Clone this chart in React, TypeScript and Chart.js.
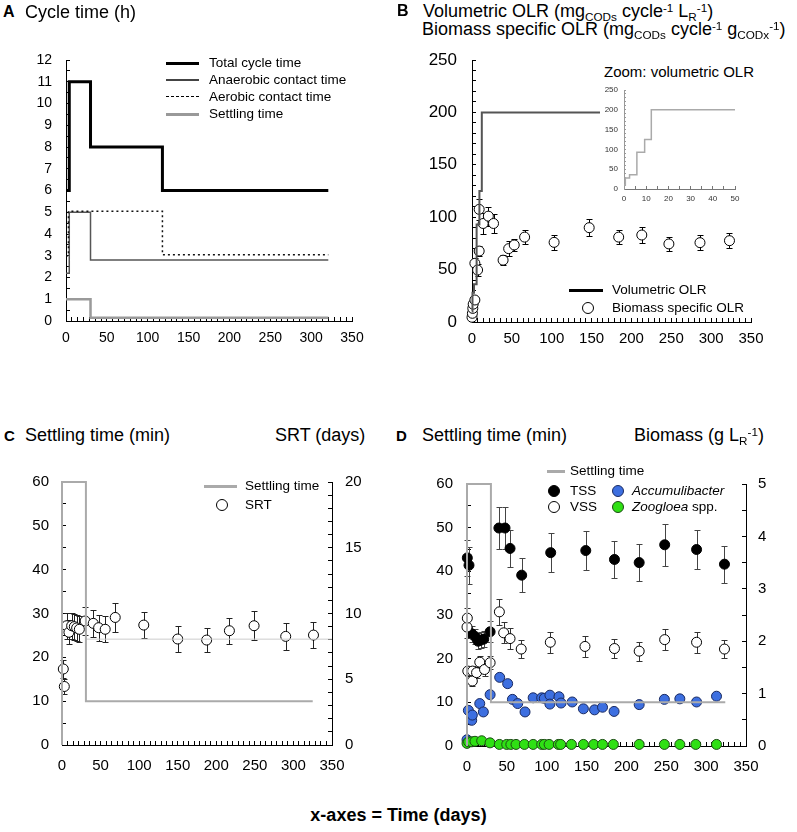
import React, { useEffect, useRef } from 'react';
import { Chart, registerables } from 'chart.js';
Chart.register(...registerables);

const FONT = '"Liberation Sans", Arial, Helvetica, sans-serif';
Chart.defaults.font.family = FONT;
Chart.defaults.color = '#000';

// ---------------- DATA ----------------
// shared x axis (days)
const X_TICKS = [0, 50, 100, 150, 200, 250, 300, 350];
const X_TICK_LABELS = ['0', '50', '100', '150', '200', '250', '300', '350'];

// Panel A: cycle time (h)
const A_Y_TICKS = [0, 1, 2, 3, 4, 5, 6, 7, 8, 9, 10, 11, 12];
const A_totalDays = [0, 4, 30, 118, 321];
const A_totalHours = [6, 11, 8, 6, 6];
const A_anaDays = [0, 4, 30, 321];
const A_anaHours = [2.2, 5, 2.8, 2.8];
const A_aeroDays = [0, 3, 118, 321];
const A_aeroHours = [3, 5.05, 3.05, 3.05];
const A_settleDays = [0, 30, 321];
const A_settleHours = [1, 0.15, 0.15];

// Panel B: OLR
const B_Y_TICKS = [0, 50, 100, 150, 200, 250];
const B_volDays = [0, 0.6, 2.5, 5.8, 9.3, 12.3, 330];
const B_volOLR = [10, 28, 36, 93, 125, 200, 200];
const B_bioDays = [0, 0.5, 1, 1.5, 3.6, 3.6, 7, 9, 9, 14, 20.5, 27, 39, 46, 53, 66, 103, 147, 184, 213, 247, 286, 323];
const B_bioOLR = [4.5, 8.3, 13, 17, 21, 56, 49.6, 67.7, 107.5, 94, 101, 94, 59, 70, 73.5, 81, 76, 90, 81, 83, 74.5, 75.7, 77.6];
const B_bioErr = [1, 1, 1, 1, 1, 5, 6, 5, 10, 10, 9, 9, 5, 7, 6, 7, 7, 8, 7, 8, 7, 7, 7];
const INSET_X_TICKS = [0, 10, 20, 30, 40, 50];
const INSET_Y_TICKS = [0, 50, 100, 150, 200, 250];

// Panel C: settling time (min) & SRT (days)
const C_Y_TICKS = [0, 10, 20, 30, 40, 50, 60];
const C_Y2_TICKS = [0, 5, 10, 15, 20];
const C_settleDays = [0, 0, 31, 325];
const C_settleMin = [0, 60, 10, 10];
const C_targetDays = [31, 350];
const C_targetSRT = [8.05, 8.05];
const C_srtDays = [1.7, 3, 6, 9, 12.5, 16, 19, 22.5, 30, 40.5, 47.5, 56, 69, 106, 150, 187.5, 217, 249, 290, 326];
const C_srt = [5.78, 4.45, 9.07, 8.57, 9.07, 9.0, 8.9, 8.8, 9.43, 9.25, 8.92, 8.8, 9.7, 9.12, 8.06, 7.98, 8.69, 9.07, 8.26, 8.36];
const C_srtErr = [0.7, 0.6, 1.0, 0.9, 1.0, 1.0, 1.0, 1.0, 1.1, 1.0, 1.0, 1.0, 1.1, 1.0, 1.0, 0.9, 1.0, 1.1, 1.0, 1.0];

// Panel D: settling time (min) & biomass (g/L)
const D_Y_TICKS = [0, 10, 20, 30, 40, 50, 60];
const D_Y2_TICKS = [0, 1, 2, 3, 4, 5];
const D_settleDays = [0, 0, 30, 324];
const D_settleMin = [0, 60, 10, 10];
const D_tssDays = [0.4, 2.5, 5.9, 10, 14, 17, 21, 29, 40, 47.7, 54, 68.6, 105, 149, 185, 216, 248, 288, 323];
const D_tss = [3.59, 3.45, 2.14, 2.09, 2.0, 2.02, 2.04, 2.18, 4.16, 4.16, 3.77, 3.26, 3.69, 3.73, 3.56, 3.5, 3.84, 3.75, 3.47];
const D_tssErr = [0.35, 0.35, 0.15, 0.15, 0.15, 0.15, 0.15, 0.2, 0.4, 0.4, 0.35, 0.32, 0.37, 0.38, 0.36, 0.36, 0.4, 0.38, 0.35];
const D_vssDays = [0, 0.4, 1, 7, 6.7, 12, 16, 22, 29, 40.6, 46, 54, 68, 104.5, 148, 185, 216, 248, 288, 323];
const D_vss = [2.27, 2.44, 1.43, 1.43, 1.24, 1.40, 1.60, 1.46, 1.59, 2.56, 2.16, 2.05, 1.85, 1.98, 1.90, 1.86, 1.81, 2.03, 1.98, 1.85];
const D_vssErr = [0.2, 0.2, 0.1, 0.1, 0.1, 0.1, 0.12, 0.12, 0.12, 0.25, 0.2, 0.2, 0.18, 0.2, 0.2, 0.18, 0.18, 0.2, 0.2, 0.18];
const D_accDays = [0, 1.7, 5.9, 6.7, 16, 20.5, 29, 41, 51, 57, 63.6, 72.8, 83, 93.7, 97, 104, 104, 115.4, 118, 132, 146, 160, 170, 184.5, 216, 247.6, 267, 288, 313];
const D_acc = [0.12, 0.68, 0.49, 0.59, 0.81, 0.65, 0.98, 1.31, 1.19, 0.89, 0.81, 0.65, 0.92, 0.92, 0.91, 0.97, 0.80, 0.94, 0.82, 0.84, 0.71, 0.69, 0.74, 0.66, 0.79, 0.89, 0.90, 0.84, 0.95];
const D_zooDays = [0, 2, 6, 10, 18.4, 28.9, 40.6, 49.8, 55, 61.5, 72, 83, 93.7, 97, 103, 114.6, 117.5, 131, 146, 159, 170, 183.6, 216, 247.6, 267, 287, 313];
const D_zoo = [0.05, 0.08, 0.08, 0.09, 0.1, 0.06, 0.03, 0.03, 0.03, 0.03, 0.03, 0.03, 0.03, 0.03, 0.03, 0.03, 0.03, 0.03, 0.03, 0.03, 0.03, 0.03, 0.03, 0.03, 0.03, 0.03, 0.03];

// ---------------- HELPERS ----------------
const pts = (xs: number[], ys: number[]) => xs.map((x, i) => ({ x, y: ys[i] }));

const errorBars = {
  id: 'errorBars',
  beforeDatasetDraw(chart: any, args: any) {
    const ds = chart.data.datasets[args.index] as any;
    if (!ds.errors) return;
    const meta = args.meta;
    const xs = chart.scales[meta.xAxisID];
    const ys = chart.scales[meta.yAxisID];
    const ctx = chart.ctx;
    ctx.save();
    ctx.strokeStyle = ds.errorColor || '#000';
    ctx.lineWidth = 1;
    ctx.beginPath();
    ds.data.forEach((p: any, i: number) => {
      const e = ds.errors[i];
      if (!e) return;
      const x = Math.round(xs.getPixelForValue(p.x)) + 0.5;
      const y1 = Math.round(ys.getPixelForValue(p.y + e)) + 0.5;
      const y2 = Math.round(ys.getPixelForValue(p.y - e)) + 0.5;
      ctx.moveTo(x, y1); ctx.lineTo(x, y2);
      ctx.moveTo(x - 3, y1); ctx.lineTo(x + 3, y1);
      ctx.moveTo(x - 3, y2); ctx.lineTo(x + 3, y2);
    });
    ctx.stroke();
    ctx.restore();
  },
};

// axis with major labelled ticks plus unlabelled minor ticks; tick marks point inward
function axis(o: {
  pos: 'bottom' | 'left' | 'right'; min: number; max: number; major: number[]; labels: string[]; minor: number;
  size: number; font: number; pad: number; color?: string; border?: string; tickLen?: number;
}) {
  const horiz = o.pos === 'bottom';
  const n = Math.round((o.max - o.min) / o.minor);
  const vals: number[] = [];
  for (let i = 0; i <= n; i++) vals.push(o.min + i * o.minor);
  const labs = vals.map((v) => {
    const k = o.major.findIndex((m) => Math.abs(m - v) < o.minor * 0.01);
    return k < 0 ? '' : o.labels[k];
  });
  const tl = o.tickLen || 4;
  return {
    type: 'linear',
    position: o.pos,
    min: o.min,
    max: o.max,
    afterBuildTicks: (s: any) => { s.ticks = vals.map((v) => ({ value: v })); },
    afterFit: (s: any) => {
      if (horiz) s.height = o.size; else s.width = o.size;
      s.paddingTop = 0; s.paddingBottom = 0; s.paddingLeft = 0; s.paddingRight = 0;
    },
    grid: {
      display: true, drawOnChartArea: false, drawTicks: true, tickLength: -tl,
      tickColor: o.border || '#000', tickWidth: 1,
    },
    border: { display: true, color: o.border || '#000', width: 1 },
    ticks: {
      color: o.color || '#000',
      font: { size: o.font, family: FONT },
      padding: o.pad + tl,
      autoSkip: false,
      maxRotation: 0,
      callback: (_v: any, i: number) => labs[i],
    },
  };
}

const lineDs = (data: any[], color: string, width: number, extra: any = {}) => ({
  data, showLine: true, stepped: true, borderColor: color, borderWidth: width, pointRadius: 0,
  fill: false, clip: false, ...extra,
});
const pointDs = (data: any[], fill: string, stroke: string, extra: any = {}) => ({
  data, showLine: false, pointRadius: 5, pointBackgroundColor: fill, pointBorderColor: stroke,
  pointBorderWidth: 1, clip: false, ...extra,
});

function baseOptions(padding: any, scales: any) {
  return {
    responsive: false,
    animation: false,
    events: [],
    layout: { padding },
    plugins: { legend: { display: false }, tooltip: { enabled: false } },
    scales,
  };
}

const S = (a: number[]) => a.map(String);

// ---------------- CHART CONFIGS ----------------
const makeA = () => ({
  type: 'scatter',
  data: {
    datasets: [
      lineDs(pts(A_settleDays, A_settleHours), '#9a9a9a', 2.5),
      lineDs(pts(A_aeroDays, A_aeroHours), '#111', 1.5, { borderDash: [2, 3] }),
      lineDs(pts(A_anaDays, A_anaHours), '#555', 1.5),
      lineDs(pts(A_totalDays, A_totalHours), '#000', 3),
    ],
  },
  options: baseOptions({ top: 20, right: 28, left: 0, bottom: 0 }, {
    x: axis({ pos: 'bottom', min: 0, max: 350, major: X_TICKS, labels: X_TICK_LABELS, minor: 50 / 7, size: 30, font: 14, pad: 9 }),
    y: axis({ pos: 'left', min: 0, max: 12, major: A_Y_TICKS, labels: S(A_Y_TICKS), minor: 0.5, size: 66, font: 14, pad: 14 }),
  }),
});

const makeB = () => ({
  type: 'scatter',
  data: {
    datasets: [
      lineDs(pts(B_volDays, B_volOLR), '#555', 2),
      pointDs(pts(B_bioDays, B_bioOLR), '#fff', '#000', { errors: B_bioErr, errorColor: '#000' }),
    ],
  },
  options: baseOptions({ top: 20, right: 29, left: 0, bottom: 0 }, {
    x: axis({ pos: 'bottom', min: 0, max: 350, major: X_TICKS, labels: X_TICK_LABELS, minor: 50 / 7, size: 30, font: 15, pad: 8 }),
    y: axis({ pos: 'left', min: 0, max: 250, major: B_Y_TICKS, labels: S(B_Y_TICKS), minor: 10, size: 72, font: 17, pad: 15 }),
  }),
  plugins: [errorBars],
});

const makeInset = () => ({
  type: 'scatter',
  data: { datasets: [lineDs(pts(B_volDays, B_volOLR), '#aaa', 1.5, { clip: 0 })] },
  options: baseOptions({ top: 10, right: 20, left: 0, bottom: 0 }, {
    x: axis({ pos: 'bottom', min: 0, max: 50, major: INSET_X_TICKS, labels: S(INSET_X_TICKS), minor: 5, size: 18, font: 8, pad: 5, color: '#333', border: '#777', tickLen: 3 }),
    y: axis({ pos: 'left', min: 0, max: 250, major: INSET_Y_TICKS, labels: S(INSET_Y_TICKS), minor: 10, size: 29, font: 8, pad: 6, color: '#333', border: '#999', tickLen: 2 }),
  }),
});

const makeC = () => ({
  type: 'scatter',
  data: {
    datasets: [
      lineDs(pts(C_settleDays, C_settleMin), '#aaa', 2),
      lineDs(pts(C_targetDays, C_targetSRT), '#ccc', 1, { yAxisID: 'y2' }),
      pointDs(pts(C_srtDays, C_srt), '#fff', '#000', { yAxisID: 'y2', errors: C_srtErr, errorColor: '#222' }),
    ],
  },
  options: baseOptions({ top: 20, right: 0, left: 0, bottom: 0 }, {
    x: axis({ pos: 'bottom', min: 0, max: 350, major: X_TICKS, labels: X_TICK_LABELS, minor: 50 / 7, size: 30, font: 15, pad: 12 }),
    y: axis({ pos: 'left', min: 0, max: 60, major: C_Y_TICKS, labels: S(C_Y_TICKS), minor: 5, size: 62, font: 15, pad: 13 }),
    y2: axis({ pos: 'right', min: 0, max: 20, major: C_Y2_TICKS, labels: S(C_Y2_TICKS), minor: 1, size: 38, font: 15, pad: 13 }),
  }),
  plugins: [errorBars],
});

const makeD = () => ({
  type: 'scatter',
  data: {
    datasets: [
      lineDs(pts(D_settleDays, D_settleMin), '#aaa', 2),
      pointDs(pts(D_zooDays, D_zoo), '#2fe014', '#1c4a14', { yAxisID: 'y2' }),
      pointDs(pts(D_accDays, D_acc), '#3d6fe0', '#1a2a60', { yAxisID: 'y2' }),
      pointDs(pts(D_vssDays, D_vss), '#fff', '#000', { yAxisID: 'y2', errors: D_vssErr, errorColor: '#333' }),
      pointDs(pts(D_tssDays, D_tss), '#000', '#000', { yAxisID: 'y2', errors: D_tssErr, errorColor: '#444' }),
    ],
  },
  options: baseOptions({ top: 20, right: 0, left: 0, bottom: 0 }, {
    x: axis({ pos: 'bottom', min: 0, max: 350, major: X_TICKS, labels: X_TICK_LABELS, minor: 50 / 7, size: 30, font: 15, pad: 12 }),
    y: axis({ pos: 'left', min: 0, max: 60, major: D_Y_TICKS, labels: S(D_Y_TICKS), minor: 5, size: 67, font: 15, pad: 14 }),
    y2: axis({ pos: 'right', min: 0, max: 5, major: D_Y2_TICKS, labels: S(D_Y2_TICKS), minor: 0.5, size: 44, font: 15, pad: 12 }),
  }),
  plugins: [errorBars],
});

// ---------------- COMPONENTS ----------------
function ChartCanvas(p: { left: number; top: number; width: number; height: number; make: () => any }) {
  const ref = useRef<HTMLCanvasElement>(null);
  useEffect(() => {
    const c = new Chart(ref.current as HTMLCanvasElement, p.make() as any);
    return () => c.destroy();
  }, []);
  return (
    <canvas ref={ref} width={p.width} height={p.height}
      style={{ position: 'absolute', left: p.left, top: p.top, width: p.width, height: p.height }} />
  );
}

function T(p: { x: number; cy: number; size: number; bold?: boolean; italic?: boolean; children: any; color?: string }) {
  return (
    <div style={{
      position: 'absolute', left: p.x, top: p.cy - p.size * 0.49, fontSize: p.size, lineHeight: 1,
      fontWeight: p.bold ? 'bold' : 'normal', fontStyle: p.italic ? 'italic' : 'normal',
      whiteSpace: 'nowrap', color: p.color || '#000',
    }}>{p.children}</div>
  );
}

const Sub = ({ children }: any) => (
  <span style={{ fontSize: '0.65em', position: 'relative', top: '0.3em' }}>{children}</span>
);
const Sup = ({ children }: any) => (
  <span style={{ fontSize: '0.65em', position: 'relative', top: '-0.45em' }}>{children}</span>
);

function LLine(p: { x1: number; x2: number; y: number; w: number; color: string; dashed?: boolean }) {
  return (
    <div style={{
      position: 'absolute', left: p.x1, top: p.y - p.w / 2, width: p.x2 - p.x1, height: p.dashed ? 0 : p.w,
      background: p.dashed ? 'transparent' : p.color,
      borderTop: p.dashed ? `${p.w}px dashed ${p.color}` : 'none',
    }} />
  );
}

function LDot(p: { x: number; y: number; fill: string; stroke: string; r?: number }) {
  const r = p.r || 5.5;
  return (
    <div style={{
      position: 'absolute', left: p.x - r, top: p.y - r, width: 2 * r - 2, height: 2 * r - 2,
      borderRadius: '50%', background: p.fill, border: `1px solid ${p.stroke}`,
    }} />
  );
}

export default function App() {
  const LF = 13.5;
  return (
    <div style={{ position: 'absolute', left: 0, top: 0, width: 797, height: 832, background: '#fff', fontFamily: FONT, overflow: 'hidden' }}>
      {/* Panel A */}
      <ChartCanvas left={0} top={40} width={380} height={311} make={makeA} />
      <T x={3} cy={11.5} size={16} bold>A</T>
      <T x={25} cy={11.5} size={18}>Cycle time (h)</T>
      <LLine x1={166} x2={199} y={63} w={3} color="#000" />
      <T x={209} cy={63} size={LF}>Total cycle time</T>
      <LLine x1={166} x2={199} y={80} w={1.5} color="#444" />
      <T x={209} cy={80} size={LF}>Anaerobic contact time</T>
      <LLine x1={166} x2={199} y={97} w={1.5} color="#000" dashed />
      <T x={209} cy={97} size={LF}>Aerobic contact time</T>
      <LLine x1={166} x2={199} y={114} w={3} color="#999" />
      <T x={209} cy={114} size={LF}>Settling time</T>

      {/* Panel B */}
      <ChartCanvas left={400} top={40} width={380} height={312} make={makeB} />
      <div style={{ position: 'absolute', left: 600, top: 56, width: 160, height: 154, background: '#fff' }} />
      <ChartCanvas left={595} top={80} width={160} height={127} make={makeInset} />
      <T x={604} cy={71} size={15}>Zoom: volumetric OLR</T>
      <T x={397} cy={11} size={16} bold>B</T>
      <T x={423} cy={11} size={18}>Volumetric OLR (mg<Sub>CODs</Sub> cycle<Sup>-1</Sup> L<Sub>R</Sub><Sup>-1</Sup>)</T>
      <T x={422} cy={29} size={18}>Biomass specific OLR (mg<Sub>CODs</Sub> cycle<Sup>-1</Sup> g<Sub>CODx</Sub><Sup>-1</Sup>)</T>
      <LLine x1={569} x2={603} y={290} w={3} color="#000" />
      <T x={612} cy={290} size={LF}>Volumetric OLR</T>
      <LDot x={588} y={308} fill="#fff" stroke="#000" r={6} />
      <T x={612} cy={308} size={LF}>Biomass specific OLR</T>

      {/* Panel C */}
      <ChartCanvas left={0} top={462} width={370} height={313} make={makeC} />
      <T x={4} cy={435} size={15} bold>C</T>
      <T x={25} cy={435} size={18}>Settling time (min)</T>
      <T x={275} cy={435} size={18}>SRT (days)</T>
      <LLine x1={204} x2={237} y={486} w={3} color="#aaa" />
      <T x={245} cy={486} size={LF}>Settling time</T>
      <LDot x={222} y={505} fill="#fff" stroke="#000" r={6} />
      <T x={245} cy={505} size={LF}>SRT</T>

      {/* Panel D */}
      <ChartCanvas left={400} top={464} width={390} height={312} make={makeD} />
      <T x={396} cy={435} size={15} bold>D</T>
      <T x={422} cy={435} size={18}>Settling time (min)</T>
      <T x={634} cy={435} size={18}>Biomass (g L<Sub>R</Sub><Sup>-1</Sup>)</T>
      <LLine x1={547} x2={565} y={471} w={3} color="#aaa" />
      <T x={570} cy={471} size={LF}>Settling time</T>
      <LDot x={554} y={491} fill="#000" stroke="#000" r={6} />
      <T x={570} cy={491} size={LF}>TSS</T>
      <LDot x={554} y={507} fill="#fff" stroke="#000" r={6} />
      <T x={570} cy={507} size={LF}>VSS</T>
      <LDot x={618} y={491} fill="#3d6fe0" stroke="#1a2a60" r={6} />
      <T x={632} cy={491} size={LF} italic>Accumulibacter</T>
      <LDot x={618} y={507} fill="#2fe014" stroke="#1c4a14" r={6} />
      <T x={632} cy={507} size={LF}><i>Zoogloea</i> spp.</T>

      {/* Common x-axis label */}
      <div style={{ position: 'absolute', left: 0, width: 797, top: 815 - 9, fontSize: 18, lineHeight: 1, fontWeight: 'bold', textAlign: 'center' }}>
        x-axes = Time (days)
      </div>
    </div>
  );
}
